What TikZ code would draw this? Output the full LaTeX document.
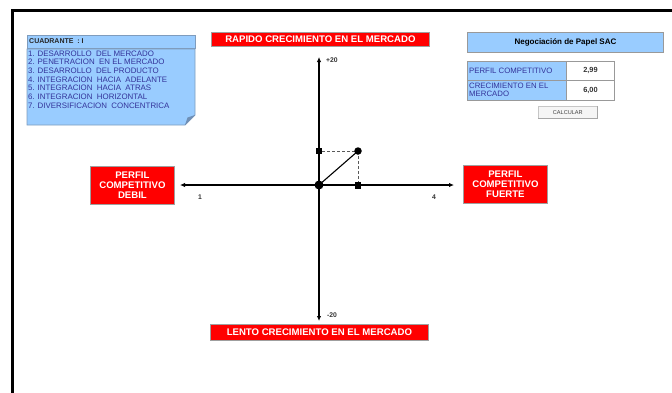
\documentclass[tikz,border=0pt]{standalone}
\usepackage{fontspec}
\setmainfont{Liberation Sans}
\usetikzlibrary{arrows.meta}

\definecolor{cellblue}{HTML}{99CCFF}
\definecolor{blueedge}{HTML}{7F9CBD}
\definecolor{flapblue}{HTML}{6F8FB5}
\definecolor{listtext}{HTML}{33339A}
\definecolor{boxred}{HTML}{FF0000}

\tikzset{
  redbox/.style={draw=gray!75, line width=0.8pt, fill=boxred, text=white,
    font=\bfseries\fontsize{9.6}{10.2}\selectfont, inner sep=0pt, align=center, anchor=north west},
  bluecell/.style={draw=gray!80, line width=0.9pt, fill=cellblue, inner sep=0pt, anchor=north west},
  whitecell/.style={draw=gray!80, line width=0.9pt, fill=white, inner sep=0pt, anchor=north west},
  celltext/.style={text=listtext, font=\fontsize{7.8}{8}\selectfont, inner sep=0pt, anchor=west, align=left},
  numtext/.style={text=black!80, font=\bfseries\fontsize{7.4}{8}\selectfont, inner sep=0pt},
  axis/.style={line width=1.7pt, -{Latex[length=5pt,width=4.5pt]}},
  axlabel/.style={font=\bfseries\fontsize{6.8}{7}\selectfont, text=black!80, inner sep=0pt},
  guide/.style={densely dashed, line width=0.45pt, black!65},
  marker/.style={fill=black, draw=none, minimum size=6.5pt, inner sep=0pt, rectangle},
  dot/.style={fill=black, circle, inner sep=0pt},
}

\begin{document}
\begin{tikzpicture}[x=1pt, y=-1pt]
  \useasboundingbox (0,0) rectangle (672,392);

  % outer frame (continues past the page edge)
  \draw[line width=3pt] (12,394) -- (12,10) -- (674,10);

  % quadrant header and strategy list
  \node[bluecell, draw=blueedge, minimum width=168pt, minimum height=13pt] (quad) at (27,35) {};
  \node[anchor=west, inner sep=0pt, font=\bfseries\fontsize{7}{8}\selectfont, text=black!85]
    (quadtxt) at (29,41.5) {CUADRANTE \ : I};
  \fill[cellblue] (27,49) -- (195,49) -- (195,115) -- (185,125) -- (27,125) -- cycle;
  \draw[blueedge, line width=0.9pt] (27,49) -- (195,49) -- (195,115) -- (185,125) -- (27,125) -- cycle;
  \fill[flapblue] (195,115) -- (185,125) -- (187.5,117.5) -- cycle;
  \node[anchor=north west, inner sep=0pt, text=listtext, align=left,
        font=\fontsize{7.9}{8.65}\selectfont] (list) at (28,50.5)
    {1. DESARROLLO \ DEL MERCADO\\
     2. PENETRACION \ EN EL MERCADO\\
     3. DESARROLLO \ DEL PRODUCTO\\
     4. INTEGRACION \ HACIA \ ADELANTE\\
     5. INTEGRACION \ HACIA \ ATRAS\\
     6. INTEGRACION \ HORIZONTAL\\
     7. DIVERSIFICACION \ CONCENTRICA};

  % quadrant titles
  \node[redbox, minimum width=218pt, minimum height=14pt] (fast) at (211,32)
    {RAPIDO CRECIMIENTO EN EL MERCADO};
  \node[redbox, minimum width=218pt, minimum height=16pt] (slow) at (210,324)
    {LENTO CRECIMIENTO EN EL MERCADO};
  \node[redbox, minimum width=84pt, minimum height=38pt] (weak) at (90,166)
    {PERFIL\\COMPETITIVO\\DEBIL};
  \node[redbox, minimum width=84pt, minimum height=38pt] (strong) at (463,165)
    {PERFIL\\COMPETITIVO\\FUERTE};

  % axes
  \coordinate (O) at (319,185);
  \coordinate (ytop) at (319,57);
  \coordinate (ybot) at (319,321);
  \coordinate (xleft) at (180,185);
  \coordinate (xright) at (454,185);
  \draw[axis] (O) -- (ytop);
  \draw[axis] (O) -- (ybot);
  \draw[axis] (O) -- (xleft);
  \draw[axis] (O) -- (xright);
  \node[axlabel, anchor=west] (ymax) at (326,60) {+20};
  \node[axlabel, anchor=west] (ymin) at (327,315) {-20};
  \node[axlabel] (xmin) at (200,197.5) {1};
  \node[axlabel] (xmax) at (434,197.5) {4};

  % position vector
  \coordinate (P) at (358,151);
  \node[marker] (py) at (319,151) {};
  \node[marker] (px) at (358,185.5) {};
  \draw[guide] (py) -- (P);
  \draw[guide] (P) -- (px);
  \draw[line width=1.1pt] (O) -- (P);
  \node[dot, minimum size=9pt] (origin) at (O) {};
  \node[dot, minimum size=7.5pt] (pt) at (P) {};

  % company panel
  \node[bluecell, minimum width=196pt, minimum height=20pt,
        font=\bfseries\fontsize{8}{9}\selectfont] (company) at (467,32)
    {Negociación de Papel SAC};
  \node[bluecell, minimum width=99pt, minimum height=19pt] (c11) at (467,61) {};
  \node[whitecell, minimum width=48pt, minimum height=19pt] (c12) at (566,61) {};
  \node[bluecell, minimum width=99pt, minimum height=20pt] (c21) at (467,80) {};
  \node[whitecell, minimum width=48pt, minimum height=20pt] (c22) at (566,80) {};
  \node[celltext] (t11) at (469,70.5) {PERFIL COMPETITIVO};
  \node[celltext, font=\fontsize{7.8}{8.2}\selectfont] (t21) at (469,90) {CRECIMIENTO EN EL\\MERCADO};
  \node[numtext] (v1) at (c12) {2,99};
  \node[numtext] (v2) at (c22) {6,00};

  % button
  \node[draw=gray!45, fill=gray!8, line width=0.6pt, anchor=north west,
        minimum width=59pt, minimum height=12pt, inner sep=0pt,
        font=\fontsize{5.6}{6}\selectfont, text=black!75] (calc) at (538,106) {CALCULAR};
  \draw[gray!70, line width=1pt] (calc.north east) -- (calc.south east) -- (calc.south west);
\end{tikzpicture}
\end{document}
